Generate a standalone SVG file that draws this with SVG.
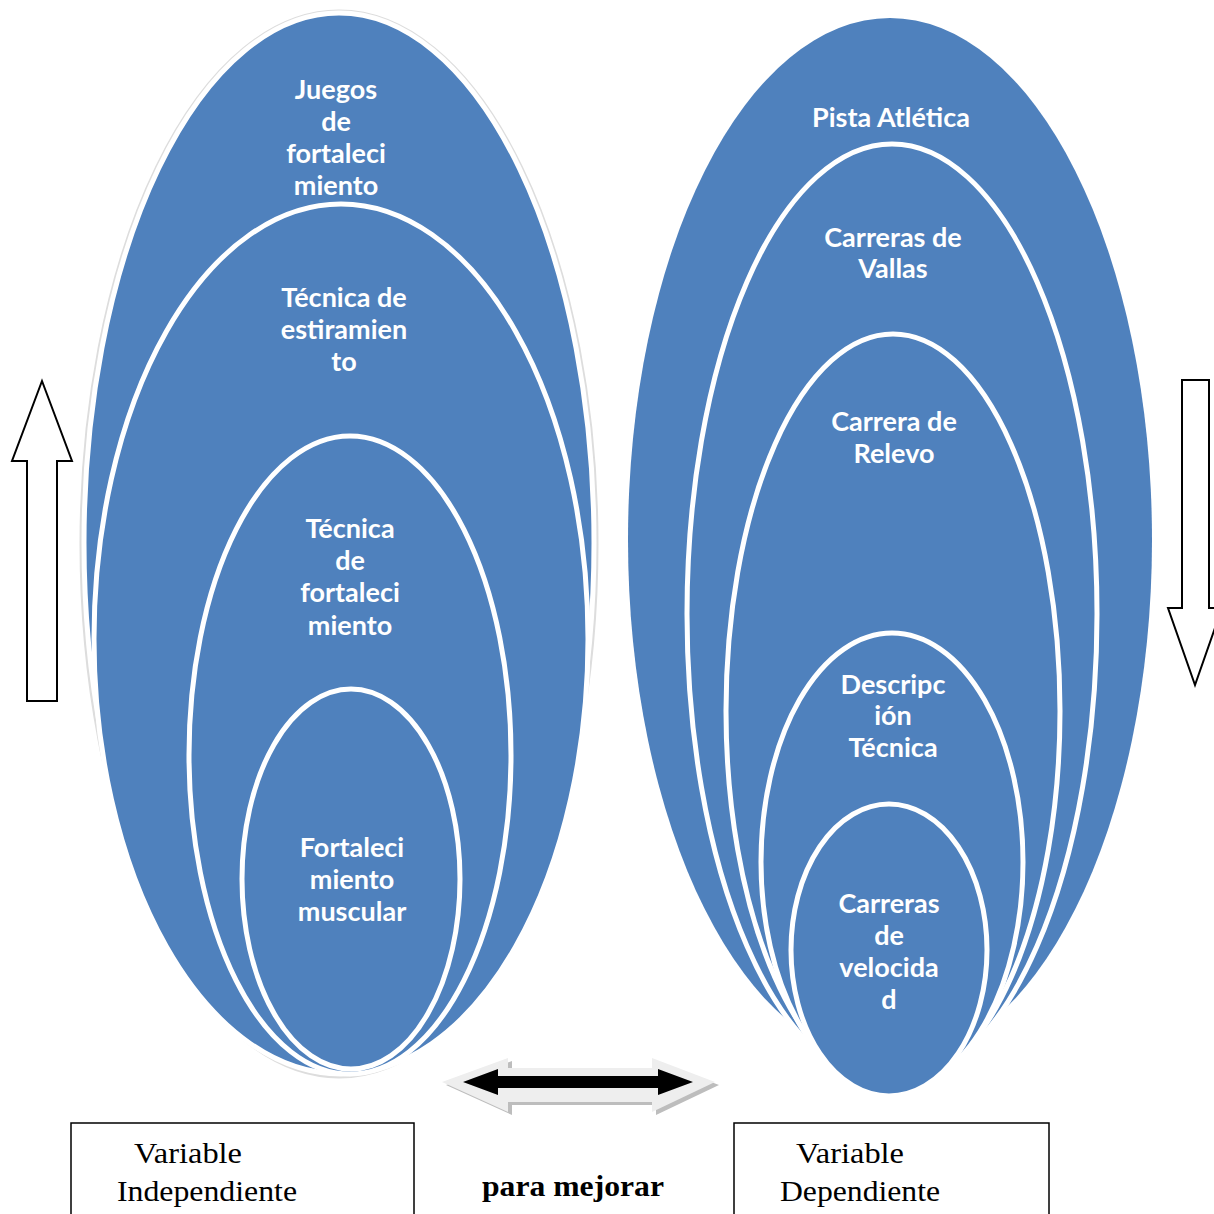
<svg xmlns="http://www.w3.org/2000/svg" width="1214" height="1214" viewBox="0 0 1214 1214">
<style>
.ell{fill:#4f81bd;stroke:#ffffff;stroke-width:5}
.outer{fill:#4f81bd;stroke:#ffffff;stroke-width:5}
.lbl{font-family:Lato,"Open Sans",sans-serif;font-weight:bold;font-size:27px;fill:#ffffff;text-anchor:middle}
.box{fill:#ffffff;stroke:#000000;stroke-width:1.5}
.vt{font-family:"Liberation Serif",serif;font-size:30px;fill:#000000}
.arr{fill:#ffffff;stroke:#000000;stroke-width:2}
</style>
<rect width="1214" height="1214" fill="#ffffff"/>
<g id="left-nodes">
<g id="juegos">
<ellipse cx="339" cy="544" rx="258" ry="533" fill="none" stroke="#dddddd" stroke-width="3"/>
<ellipse class="outer" cx="339" cy="543" rx="255" ry="530"/>
<text class="lbl" x="336" y="99">Juegos</text>
<text class="lbl" x="336" y="131">de</text>
<text class="lbl" x="336" y="163">fortaleci</text>
<text class="lbl" x="336" y="195">miento</text>
</g>
<g id="tecnica-estiramiento">
<ellipse class="ell" cx="341" cy="639" rx="247" ry="435"/>
<text class="lbl" x="344" y="307">Técnica de</text>
<text class="lbl" x="344" y="339">estiramien</text>
<text class="lbl" x="344" y="371">to</text>
</g>
<g id="tecnica-fortalecimiento">
<ellipse class="ell" cx="350" cy="755" rx="161" ry="319"/>
<text class="lbl" x="350" y="538">Técnica</text>
<text class="lbl" x="350" y="570">de</text>
<text class="lbl" x="350" y="602">fortaleci</text>
<text class="lbl" x="350" y="635">miento</text>
</g>
<g id="fortalecimiento-muscular">
<ellipse class="ell" cx="351" cy="879" rx="109" ry="190"/>
<text class="lbl" x="352" y="857">Fortaleci</text>
<text class="lbl" x="352" y="889">miento</text>
<text class="lbl" x="352" y="921">muscular</text>
</g>
</g>
<g id="right-nodes">
<g id="pista">
<ellipse cx="890" cy="540" rx="262" ry="522" fill="#4f81bd"/>
<text class="lbl" x="891" y="127">Pista Atlética</text>
</g>
<g id="vallas">
<ellipse class="ell" cx="892" cy="614" rx="205" ry="470"/>
<text class="lbl" x="893" y="247">Carreras de</text>
<text class="lbl" x="893" y="278">Vallas</text>
</g>
<g id="relevo">
<ellipse class="ell" cx="893" cy="711" rx="167" ry="377"/>
<text class="lbl" x="894" y="431">Carrera de</text>
<text class="lbl" x="894" y="463">Relevo</text>
</g>
<g id="descripcion">
<ellipse class="ell" cx="892" cy="862" rx="131" ry="229"/>
<text class="lbl" x="893" y="694">Descripc</text>
<text class="lbl" x="893" y="725">ión</text>
<text class="lbl" x="893" y="757">Técnica</text>
</g>
<g id="velocidad">
<ellipse class="ell" cx="889" cy="950" rx="98" ry="146"/>
<text class="lbl" x="889" y="913">Carreras</text>
<text class="lbl" x="889" y="945">de</text>
<text class="lbl" x="889" y="977">velocida</text>
<text class="lbl" x="889" y="1009">d</text>
</g>
</g>
<g id="connectors">
<polygon class="arr" points="42,381 72,461 57,461 57,701 27,701 27,461 12,461"/>
<polygon class="arr" points="1182,380 1209,380 1209,608 1222,608 1195,685 1168,608 1182,608"/>
<g id="double-arrow">
<polygon fill="#bdbdbd" points="446,1085 512,1061 512,1071 656,1071 656,1061 719,1085 656,1115 656,1105 512,1105 512,1115"/>
<polygon fill="#eeeeee" points="442,1082 508,1058 508,1068 652,1068 652,1058 715,1082 652,1112 652,1102 508,1102 508,1112"/>
<polygon fill="#000000" points="463,1082 498,1069 498,1076 658,1076 658,1069 693,1082 658,1095 658,1088 498,1088 498,1095"/>
</g>
</g>
<g id="independiente-box">
<rect class="box" x="71" y="1123" width="343" height="100"/>
<text class="vt" x="134" y="1163" textLength="108" lengthAdjust="spacingAndGlyphs">Variable</text>
<text class="vt" x="117" y="1201" textLength="180" lengthAdjust="spacingAndGlyphs">Independiente</text>
</g>
<g id="para-mejorar">
<text class="vt" x="482" y="1196" font-weight="bold" textLength="182" lengthAdjust="spacingAndGlyphs">para mejorar</text>
</g>
<g id="dependiente-box">
<rect class="box" x="734" y="1123" width="315" height="100"/>
<text class="vt" x="796" y="1163" textLength="108" lengthAdjust="spacingAndGlyphs">Variable</text>
<text class="vt" x="780" y="1201" textLength="160" lengthAdjust="spacingAndGlyphs">Dependiente</text>
</g>
</svg>
